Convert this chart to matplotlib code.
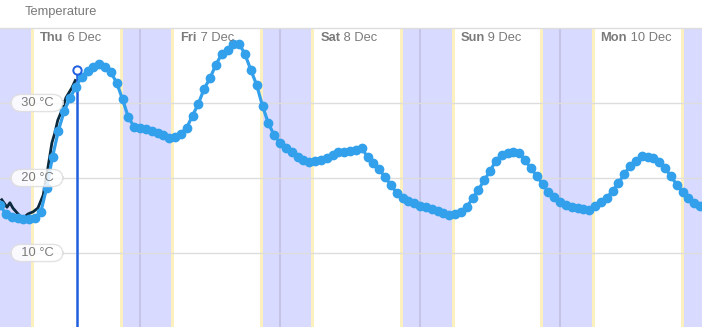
import matplotlib
matplotlib.use("Agg")
import matplotlib.pyplot as plt
from matplotlib.transforms import blended_transform_factory

plt.rcParams['font.family'] = ['Liberation Sans', 'DejaVu Sans']

# hourly forecast, hour 0 = Thu 6 Dec 00:00
forecast_temp = [16.4, 15.2, 14.8, 14.7, 14.5, 14.5, 14.7, 15.5, 18.7, 22.8,
                 26.3, 28.9, 30.7, 32.1, 33.5, 34.3, 34.8, 35.2, 34.8, 34.1,
                 32.7, 30.5, 28.1, 26.8, 26.7, 26.5, 26.3, 26.0, 25.7, 25.3,
                 25.5, 25.9, 26.7, 28.3, 29.9, 31.9, 33.3, 35.1, 36.5, 37.1,
                 37.9, 37.9, 36.5, 34.4, 32.4, 29.6, 27.3, 25.7, 24.7, 24.0,
                 23.5, 22.8, 22.4, 22.1, 22.3, 22.4, 22.7, 23.1, 23.5, 23.5,
                 23.6, 23.7, 24.0, 22.8, 22.0, 21.2, 20.1, 19.1, 18.0, 17.3,
                 16.9, 16.7, 16.3, 16.1, 15.9, 15.6, 15.3, 15.1, 15.2, 15.5,
                 16.1, 17.3, 18.4, 19.7, 20.9, 22.3, 23.1, 23.3, 23.5, 23.3,
                 22.4, 21.3, 20.3, 19.2, 18.1, 17.5, 16.8, 16.4, 16.1, 16.0,
                 15.9, 15.7, 16.3, 16.8, 17.3, 18.3, 19.3, 20.5, 21.6, 22.3,
                 22.9, 22.8, 22.7, 22.1, 21.3, 20.3, 19.1, 18.1, 17.3, 16.7,
                 16.3]
forecast_hours = list(range(len(forecast_temp)))

# observed history up to now
obs_hours = [0.3, 1.2, 1.7, 2.2, 3.1, 3.9, 4.8, 5.7, 6.5, 7.4, 8.2, 8.9,
             9.4, 9.9, 10.6, 11.3, 12.3, 12.9]
obs_temp = [17.1, 16.1, 16.7, 16.0, 15.2, 14.6, 15.2, 15.5, 16.0, 17.7, 21.3,
            24.7, 26.0, 27.7, 29.0, 30.7, 32.0, 33.0]
now_hour = 13.2
now_temp = 34.4

sunsets = [-3.0, 21.1, 45.1, 69.1, 93.1, 117.2]
sunrises = [5.3, 29.3, 53.3, 77.5, 101.5, 125.0]
midnights = [24, 48, 72, 96]
day_names = ['Thu', 'Fri', 'Sat', 'Sun', 'Mon']
day_dates = ['6 Dec', '7 Dec', '8 Dec', '9 Dec', '10 Dec']
y_ticks = [10, 20, 30]

fig = plt.figure(figsize=(7.02, 3.27), dpi=100)
ax = fig.add_axes([0, 0, 1, 299 / 327])
ax.set_xlim(0, 702 / (140 / 24))
ax.set_ylim(0.13, 40)
ax.axis('off')

# night bands with yellow edges
for s, r in zip(sunsets, sunrises):
    ax.axvspan(s, r, color='#d9daff', lw=0, zorder=0)
    ax.axvspan(s - 0.45, s, color='#fdf0bf', lw=0, zorder=0)
    ax.axvspan(r, r + 0.45, color='#fdf0bf', lw=0, zorder=0)
for m in midnights:
    ax.axvline(m, color='#c3c4e6', lw=1.5, zorder=1)

for t in y_ticks:
    ax.axhline(t, color='#dddddd', lw=1, zorder=1)

# day labels
for i, (nm, dt) in enumerate(zip(day_names, day_dates)):
    t1 = ax.text(i * 24 + 6.9, 38.6, nm, fontsize=9.3, fontweight='bold',
                 color='#7a7a7a', va='center', ha='left', zorder=5)
    ax.annotate(' ' + dt, xy=(1, 0.5), xycoords=t1, fontsize=9.3,
                color='#7a7a7a', va='center', ha='left', zorder=5)

ax.plot(obs_hours, obs_temp, color='#0b2a3e', lw=2, zorder=3)
ax.vlines(now_hour, 0, now_temp - 0.5, color='#1f5fe0', lw=1.8, zorder=3)
ax.plot(forecast_hours, forecast_temp, color='#33a0ec', lw=2.3,
        marker='o', ms=6, zorder=4)
ax.plot([now_hour], [now_temp], marker='o', ms=6, mfc='white',
        mec='#1f5fe0', mew=1.4, zorder=6)

# y labels in rounded boxes
trans = blended_transform_factory(ax.transAxes, ax.transData)
for t in y_ticks:
    ax.text(37 / 702, t, '  %d °C  ' % t, transform=trans, fontsize=9.3,
            color='#7a7a7a', ha='center', va='center', zorder=7,
            bbox=dict(boxstyle='round,pad=0.2,rounding_size=0.8',
                      fc='white', ec='#dddddd', alpha=0.85, lw=1))

fig.text(25 / 702, 1 - 12 / 327, 'Temperature', fontsize=9.3,
         color='#7a7a7a', ha='left', va='center')
fig.add_artist(plt.Line2D([0, 1], [1 - 28 / 327] * 2, color='#dddddd',
                          lw=1, transform=fig.transFigure))

fig.savefig('out.png', dpi=100)
